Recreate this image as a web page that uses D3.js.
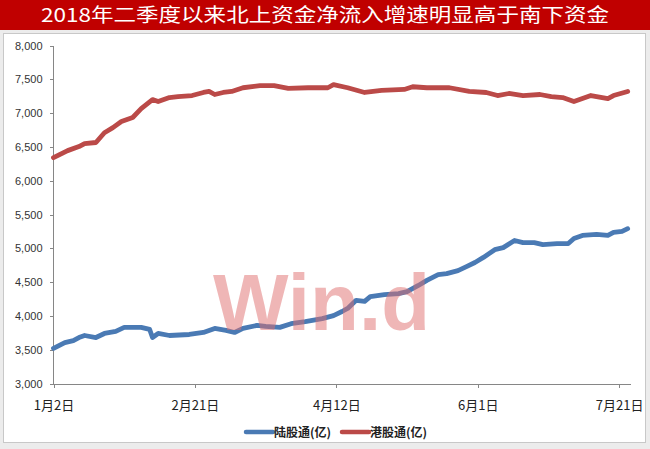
<!DOCTYPE html>
<html><head><meta charset="utf-8">
<script src="https://cdn.jsdelivr.net/npm/d3@7"></script>
<style>html,body{margin:0;padding:0;background:#ececec;}svg{display:block;}</style>
</head><body>
<script>
const title = "2018年二季度以来北上资金净流入增速明显高于南下资金";
const seriesNames = ["陆股通(亿)", "港股通(亿)"];
const xTickDates = ["2018-01-02","2018-02-21","2018-04-12","2018-06-01","2018-07-21"];
const yTicks = [3000,3500,4000,4500,5000,5500,6000,6500,7000,7500,8000];

const northDates = ["2018-01-02","2018-01-06","2018-01-09","2018-01-11","2018-01-13","2018-01-17","2018-01-20","2018-01-24","2018-01-27","2018-02-02",
 "2018-02-05","2018-02-06","2018-02-08","2018-02-12","2018-02-19","2018-02-24","2018-02-28","2018-03-04","2018-03-07","2018-03-10",
 "2018-03-15","2018-03-18","2018-03-23","2018-03-27","2018-04-01","2018-04-07","2018-04-11","2018-04-14","2018-04-16","2018-04-19",
 "2018-04-22","2018-04-24","2018-04-29","2018-05-04","2018-05-07","2018-05-11","2018-05-14","2018-05-18","2018-05-21","2018-05-25",
 "2018-05-28","2018-05-31","2018-06-03","2018-06-07","2018-06-10","2018-06-14","2018-06-17","2018-06-21","2018-06-24","2018-06-29",
 "2018-07-03","2018-07-05","2018-07-08","2018-07-13","2018-07-17","2018-07-19","2018-07-22","2018-07-24"];
const northValues = [3520,3605,3635,3680,3710,3680,3740,3770,3830,3830,
 3800,3680,3740,3710,3725,3755,3815,3785,3755,3815,
 3860,3845,3830,3885,3915,3960,4005,4065,4110,4230,
 4215,4285,4315,4330,4360,4450,4525,4610,4625,4670,
 4730,4790,4865,4980,5010,5115,5085,5085,5055,5070,
 5070,5145,5190,5205,5190,5235,5250,5290];

const southDates = ["2018-01-02","2018-01-07","2018-01-11","2018-01-13","2018-01-17","2018-01-20","2018-01-23","2018-01-26","2018-01-30","2018-02-02",
 "2018-02-06","2018-02-08","2018-02-12","2018-02-15","2018-02-20","2018-02-24","2018-02-26","2018-02-28","2018-03-03","2018-03-06",
 "2018-03-10","2018-03-16","2018-03-21","2018-03-26","2018-04-02","2018-04-09","2018-04-11","2018-04-16","2018-04-22","2018-04-28",
 "2018-05-06","2018-05-09","2018-05-14","2018-05-19","2018-05-22","2018-05-29","2018-06-04","2018-06-08","2018-06-12","2018-06-17",
 "2018-06-23","2018-06-27","2018-07-01","2018-07-05","2018-07-07","2018-07-11","2018-07-17","2018-07-19","2018-07-24"];
const southValues = [6340,6445,6505,6550,6565,6710,6785,6875,6935,7065,
 7200,7170,7230,7245,7260,7305,7320,7275,7305,7320,
 7375,7405,7405,7365,7375,7375,7420,7375,7305,7335,
 7350,7390,7375,7375,7375,7320,7305,7260,7290,7260,
 7275,7245,7230,7170,7200,7260,7215,7260,7320];

const W = 650, H = 449;
const parse = d3.timeParse("%Y-%m-%d");
const svg = d3.select("body").append("svg").attr("width", W).attr("height", H);

svg.append("rect").attr("x",0).attr("y",0).attr("width",W).attr("height",H).attr("fill","#ececec");
svg.append("rect").attr("x",0).attr("y",0).attr("width",W).attr("height",30).attr("fill","#c00000");
svg.append("text").attr("x",W/2).attr("y",21.5).attr("text-anchor","middle")
  .attr("font-family","'Noto Sans CJK SC', sans-serif").attr("font-size",19).attr("fill","#fff")
  .attr("textLength",568).attr("lengthAdjust","spacingAndGlyphs").text(title);
svg.append("rect").attr("x",3.5).attr("y",33.5).attr("width",642).attr("height",409)
  .attr("fill","#fff").attr("stroke","#c8c8c8");

const x = d3.scaleTime().domain([parse("2018-01-02"), parse("2018-07-25")]).range([53.5, 630.5]);
const y = d3.scaleLinear().domain([3000, 8000]).range([383.5, 45.5]);

const yAxis = svg.append("g").attr("transform","translate(53.5,0)")
  .call(d3.axisLeft(y).tickValues(yTicks).tickSize(4).tickSizeOuter(0).tickFormat(d3.format(",")));
yAxis.selectAll("path, line").attr("stroke","#868686").attr("shape-rendering","crispEdges");
yAxis.selectAll("path").attr("d","M0,45.5V383.5");
yAxis.selectAll("text").attr("font-family","'Liberation Sans', Arial, sans-serif").attr("font-size",11)
  .attr("fill","#333").attr("x",-11);

const xAxis = svg.append("g").attr("transform","translate(0,383.5)")
  .call(d3.axisBottom(x).tickValues(xTickDates.map(parse)).tickSize(4).tickSizeOuter(0)
    .tickFormat(d => (d.getMonth()+1) + "月" + d.getDate() + "日"));
xAxis.selectAll("path, line").attr("stroke","#868686").attr("shape-rendering","crispEdges");
xAxis.selectAll("text").attr("font-family","'Noto Sans CJK SC', sans-serif").attr("font-size",13)
  .attr("fill","#222").attr("dy","0").attr("y",26);

const line = d3.line().x(d => x(d[0])).y(d => y(d[1])).curve(d3.curveLinear);
const north = northDates.map((d,i) => [parse(d), northValues[i]]);
const south = southDates.map((d,i) => [parse(d), southValues[i]]);
const colors = ["#4a7ab4", "#bb4a48"];
[north, south].forEach((data, i) => {
  svg.append("path").datum(data).attr("d", line).attr("fill","none")
    .attr("stroke", colors[i]).attr("stroke-width", 4.8)
    .attr("stroke-linejoin","round").attr("stroke-linecap","round");
});

svg.append("text").attr("x",213).attr("y",330)
  .attr("font-family","'Liberation Sans', Arial, sans-serif").attr("font-size",80).attr("font-weight","bold")
  .attr("fill","#e07070").attr("opacity",0.5).text("Win.d");

const legend = svg.append("g").attr("transform","translate(0,432)");
const legendItems = [{x:246, c:colors[0], t:seriesNames[0]}, {x:342, c:colors[1], t:seriesNames[1]}];
legendItems.forEach(it => {
  legend.append("line").attr("x1",it.x).attr("x2",it.x+27).attr("y1",0).attr("y2",0)
    .attr("stroke",it.c).attr("stroke-width",4.5).attr("stroke-linecap","round");
  legend.append("text").attr("x",it.x+28).attr("y",4.5)
    .attr("font-family","'Noto Sans CJK SC', sans-serif").attr("font-size",12).attr("font-weight","bold")
    .attr("fill","#222").text(it.t);
});
</script>
</body></html>
